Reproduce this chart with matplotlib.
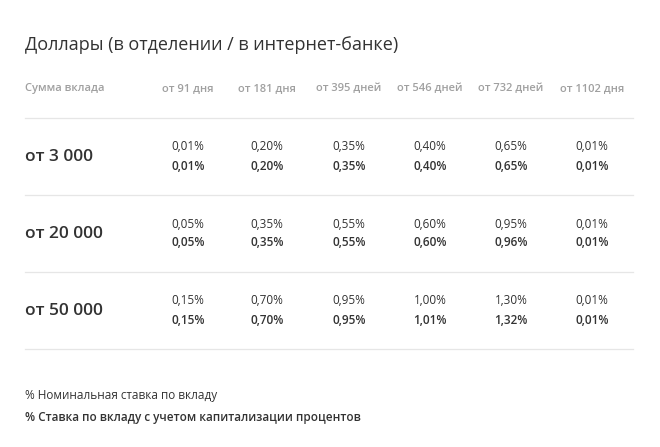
import matplotlib
matplotlib.use("Agg")
import matplotlib.pyplot as plt

title = "Доллары (в отделении / в интернет-банке)"
header_first = "Сумма вклада"
terms = ["от 91 дня", "от 181 дня", "от 395 дней", "от 546 дней", "от 732 дней", "от 1102 дня"]
amounts = ["от 3 000", "от 20 000", "от 50 000"]
nominal = [
    ["0,01%", "0,20%", "0,35%", "0,40%", "0,65%", "0,01%"],
    ["0,05%", "0,35%", "0,55%", "0,60%", "0,95%", "0,01%"],
    ["0,15%", "0,70%", "0,95%", "1,00%", "1,30%", "0,01%"],
]
effective = [
    ["0,01%", "0,20%", "0,35%", "0,40%", "0,65%", "0,01%"],
    ["0,05%", "0,35%", "0,55%", "0,60%", "0,96%", "0,01%"],
    ["0,15%", "0,70%", "0,95%", "1,01%", "1,32%", "0,01%"],
]
note1 = "% Номинальная ставка по вкладу"
note2 = "% Ставка по вкладу с учетом капитализации процентов"

plt.rcParams["font.family"] = "Open Sans"
fig = plt.figure(figsize=(6.6, 4.47), dpi=100)
ax = fig.add_axes([0, 0, 1, 1])
ax.set_xlim(0, 660); ax.set_ylim(447, 0); ax.axis("off")

dark = "#333333"; gray = "#a0a0a0"
ax.text(25, 45, title, fontsize=13, color=dark, va="center")
ax.text(25, 89, header_first, fontsize=8, color=gray, va="center", fontweight="semibold")
cols = [188, 267, 349, 430, 511, 592]
for x, t in zip(cols, terms):
    ax.text(x, 89, t, fontsize=8, color=gray, va="center", ha="center", fontweight="semibold")
lines = [118, 195, 272, 349]
for y in lines:
    ax.plot([25, 633], [y, y], color="#e6e6e6", lw=0.9)
for i, a in enumerate(amounts):
    yc = 157 + 77 * i
    ax.text(25, yc, a, fontsize=12.5, color=dark, va="center", fontweight="medium")
    for j, x in enumerate(cols):
        ax.text(x, yc - 10, nominal[i][j], fontsize=8.5, color=dark, va="center", ha="center")
        ax.text(x, yc + 9, effective[i][j], fontsize=8.5, color=dark, va="center", ha="center", fontweight="semibold")
ax.text(25, 395, note1, fontsize=8.5, color=dark, va="center")
ax.text(25, 417, note2, fontsize=8.5, color=dark, va="center", fontweight="semibold")
fig.savefig("out.png", dpi=100, facecolor="white")
